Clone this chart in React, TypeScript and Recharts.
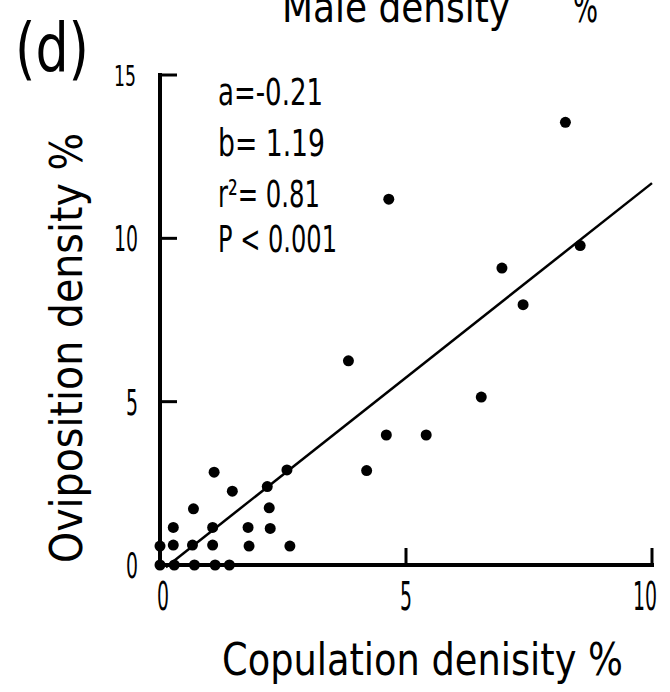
import { ReferenceLine, Scatter, ScatterChart, XAxis, YAxis } from "recharts";

// copulation density % (x) and oviposition density % (y), one pair per site
const copulation = [
  0, 0.29, 0.7, 1.12, 1.41,
  0, 0.27, 0.66, 1.07, 1.81, 2.64,
  0.27, 1.07, 1.79, 2.24,
  0.68, 2.22,
  1.1, 1.47, 2.18, 2.58,
  3.83, 4.2, 4.6, 5.41, 6.53, 4.65,
  6.95, 7.38, 8.54, 8.24,
];
const oviposition = [
  0, 0, 0, 0, 0,
  0.58, 0.61, 0.61, 0.61, 0.58, 0.58,
  1.15, 1.15, 1.15, 1.12,
  1.72, 1.75,
  2.84, 2.26, 2.4, 2.91,
  6.25, 2.89, 3.98, 3.98, 5.14, 11.2,
  9.09, 7.97, 9.78, 13.55,
];

const xTicks = [0, 5, 10];
const yTicks = [0, 5, 10, 15];

// regression y = a + b x
const fitA = -0.21;
const fitB = 1.19;
const fitRange = [0.12, 10];

const statLines = ["a=-0.21", "b= 1.19", "r²= 0.81", "P < 0.001"];

const points = copulation.map((x, i) => ({ x, y: oviposition[i] }));
const fitLine = fitRange.map((x) => ({ x, y: fitA + fitB * x }));

const FONT =
  "'Liberation Sans Narrow', 'DejaVu Sans Condensed', 'Liberation Sans', sans-serif";

type TxtProps = {
  x: number;
  y: number;
  w: number;
  size: number;
  anchor?: "start" | "middle" | "end";
  rotate?: boolean;
  children: string;
};

function Txt({ x, y, w, size, anchor = "start", rotate, children }: TxtProps) {
  return (
    <text
      x={x}
      y={y}
      fontSize={size}
      fontFamily={FONT}
      fill="#000"
      textAnchor={anchor}
      textLength={w}
      lengthAdjust="spacingAndGlyphs"
      transform={rotate ? `rotate(-90 ${x} ${y})` : undefined}
    >
      {children}
    </text>
  );
}

const XTick = (props: any) => {
  const { x, y, payload } = props;
  const label = String(payload.value);
  const shift = payload.value === 0 ? 3 : payload.value === 10 ? -7 : 0;
  return (
    <g>
      {payload.value !== 0 && (
        <line x1={x} y1={y} x2={x} y2={y - 17} stroke="#000" strokeWidth={3} />
      )}
      <Txt x={x + shift} y={y + 45} w={label.length * 12} size={39} anchor="middle">
        {label}
      </Txt>
    </g>
  );
};

const YTick = (props: any) => {
  const { x, y, payload } = props;
  const label = String(payload.value);
  const top = payload.value === 15;
  return (
    <g>
      {payload.value !== 0 && (
        <line x1={x} y1={y} x2={x + 17} y2={y} stroke="#000" strokeWidth={3} />
      )}
      <Txt
        x={x - (top ? 24 : 22)}
        y={y + (top ? 11 : 13)}
        w={label.length * (top ? 11 : 12)}
        size={top ? 29 : 36}
        anchor="end"
      >
        {label}
      </Txt>
    </g>
  );
};

const Dot = (props: any) => <circle cx={props.cx} cy={props.cy} r={5.5} fill="#000" />;

export default function App() {
  return (
    <div style={{ position: "absolute", left: 0, top: 0, background: "#fff" }}>
      <ScatterChart
        width={670}
        height={692}
        margin={{ top: 75, right: 18, bottom: 97, left: 100 }}
      >
        <XAxis
          type="number"
          dataKey="x"
          domain={[0, 10]}
          ticks={xTicks}
          interval={0}
          height={30}
          tickSize={0}
          tickMargin={0}
          tickLine={false}
          axisLine={{ stroke: "#000", strokeWidth: 4, strokeLinecap: "square" }}
          tick={<XTick />}
        />
        <YAxis
          type="number"
          dataKey="y"
          domain={[0, 15]}
          ticks={yTicks}
          interval={0}
          width={60}
          tickSize={0}
          tickMargin={0}
          tickLine={false}
          axisLine={{ stroke: "#000", strokeWidth: 4, strokeLinecap: "square" }}
          tick={<YTick />}
        />
        <ReferenceLine
          segment={fitLine}
          stroke="#000"
          strokeWidth={2.5}
          ifOverflow="visible"
        />
        <Scatter data={points} shape={Dot} isAnimationActive={false} />

        {/* panel text */}
        <Txt x={15} y={72} w={74} size={68}>(d)</Txt>
        <Txt x={282} y={22} w={228} size={42}>Male density</Txt>
        <Txt x={573} y={22} w={25} size={42}>%</Txt>
        <Txt x={222} y={675} w={401} size={44}>Copulation denisity %</Txt>
        <Txt x={82} y={348} w={430} size={44} anchor="middle" rotate>
          Oviposition density %
        </Txt>

        {/* fit statistics */}
        <Txt x={218} y={105} w={105} size={37}>{statLines[0]}</Txt>
        <Txt x={218} y={156} w={107} size={37}>{statLines[1]}</Txt>
        <Txt x={218} y={207} w={102} size={37}>{statLines[2]}</Txt>
        <Txt x={218} y={252} w={119} size={37}>{statLines[3]}</Txt>
      </ScatterChart>
    </div>
  );
}
